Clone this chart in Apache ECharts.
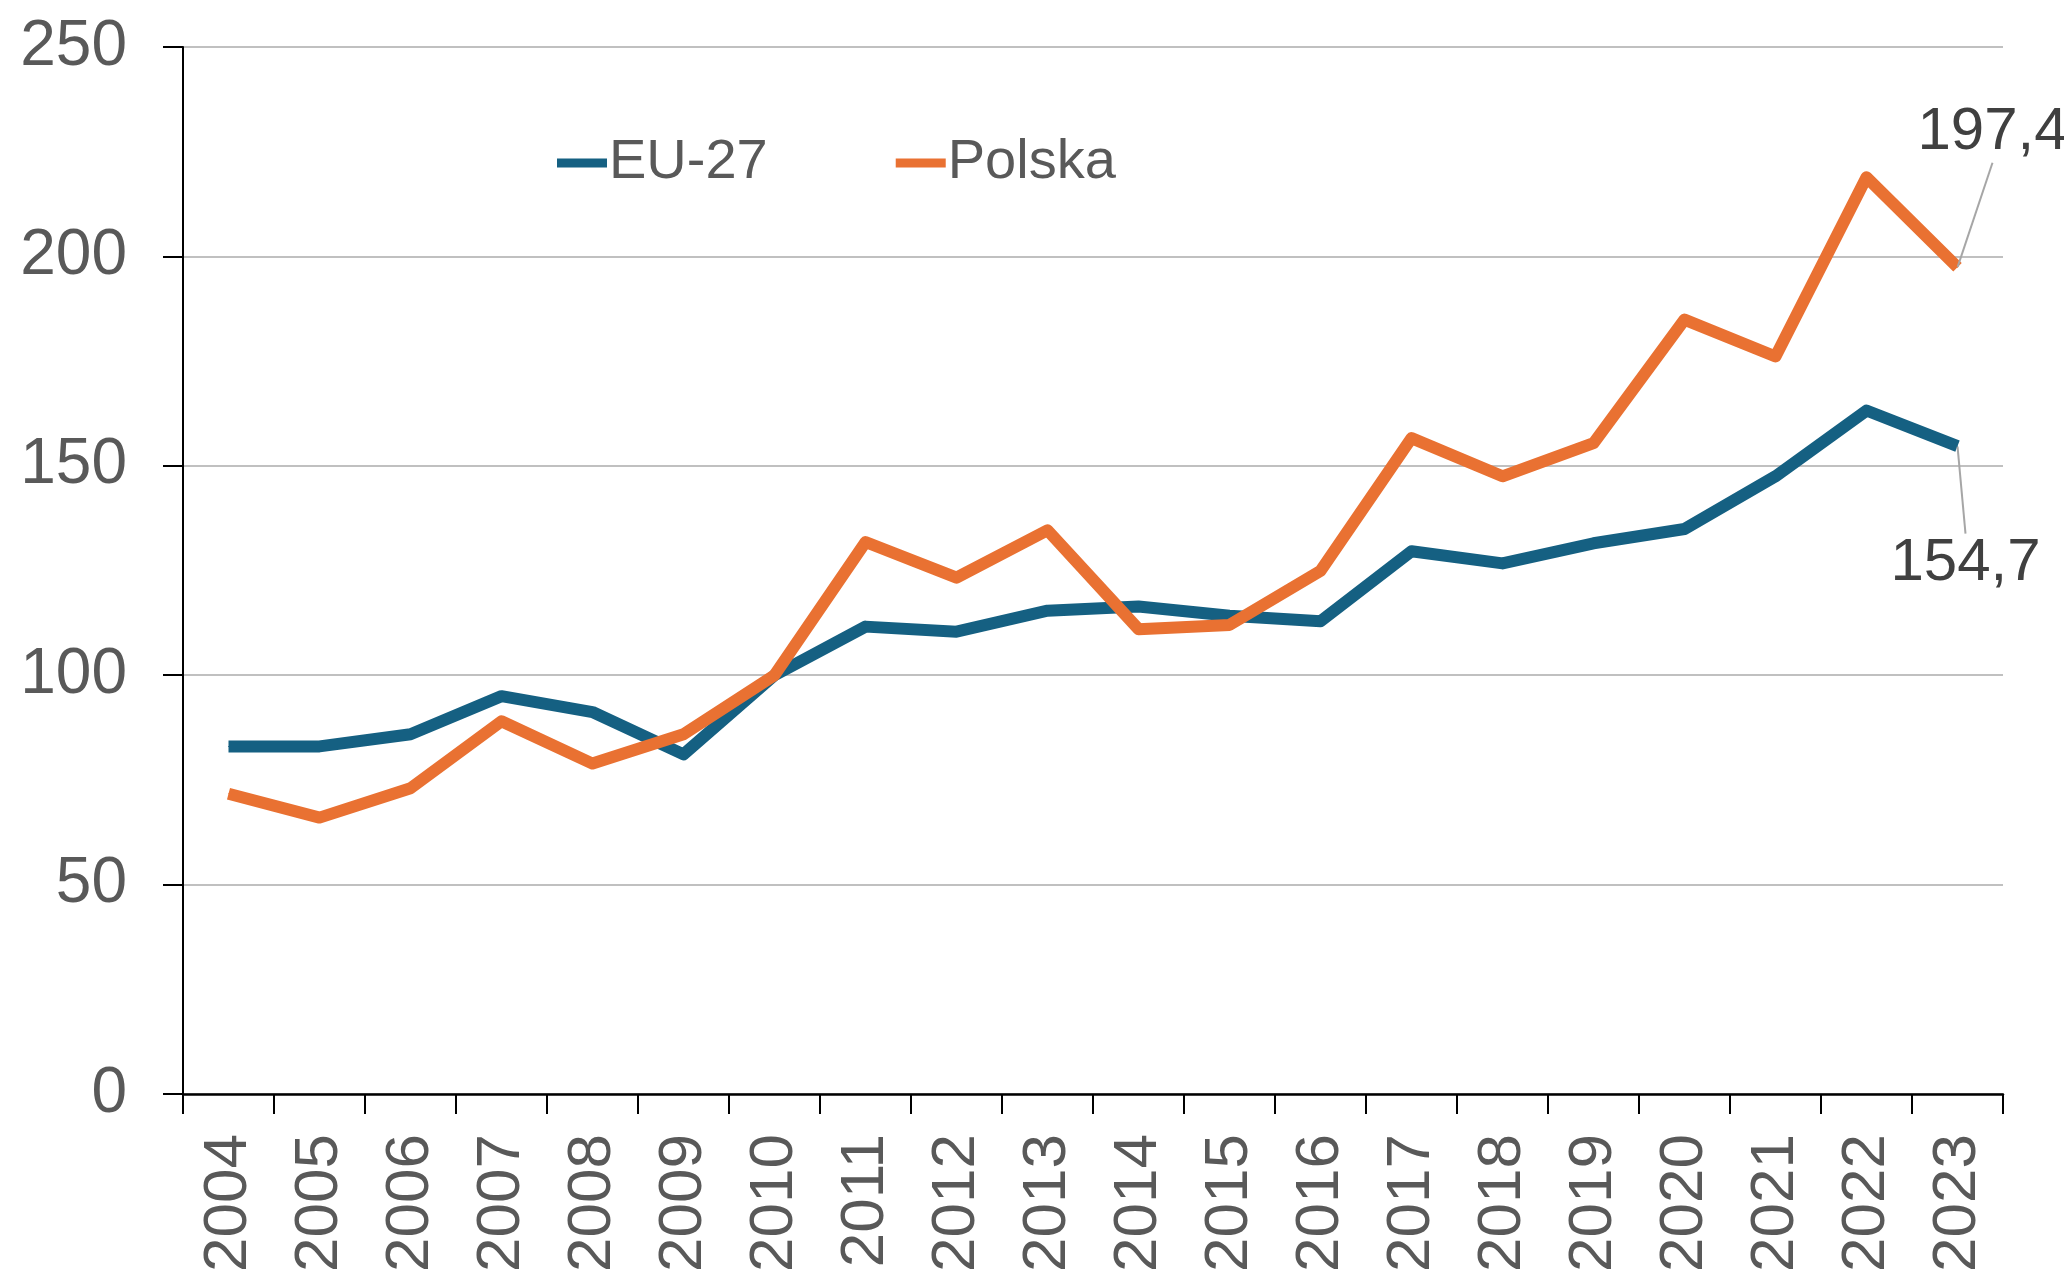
<!DOCTYPE html>
<html>
<head>
<meta charset="utf-8">
<script src="https://cdn.jsdelivr.net/npm/echarts@6/dist/echarts.min.js"></script>
<style>
html,body{margin:0;padding:0;background:#fff;}
#chart{width:2064px;height:1269px;}
</style>
</head>
<body>
<div id="chart"></div>
<script>
var years = ['2004','2005','2006','2007','2008','2009','2010','2011','2012','2013',
             '2014','2015','2016','2017','2018','2019','2020','2021','2022','2023'];
var eu27 = [83.0, 83.0, 85.9, 95.0, 91.2, 81.1, 100.0, 111.6, 110.4, 115.4,
            116.4, 114.2, 112.9, 129.6, 126.7, 131.5, 134.9, 147.5, 163.2, 154.7];
var polska = [71.7, 66.0, 73.0, 89.0, 78.9, 85.9, 100.0, 131.8, 123.3, 134.6,
              111.0, 112.0, 124.9, 156.6, 147.5, 155.4, 184.9, 176.1, 218.9, 197.4];
var yTicks = [0, 50, 100, 150, 200, 250];

var mainFont = '"Liberation Sans", Arial, sans-serif';

// ostatni punkt z etykieta
function lastLabeled(arr) {
    return arr.map(function (v, i) {
        if (i !== arr.length - 1) return v;
        return {
            value: v,
            label: {
                show: true,
                formatter: function (p) { return String(p.value).replace('.', ','); }
            }
        };
    });
}

var chart = echarts.init(document.getElementById('chart'));
var option = {
    animation: false,
    backgroundColor: '#fff',
    grid: {
        left: 183,
        right: 61,
        top: 47,
        bottom: 175,
        containLabel: false,
        outerBoundsMode: 'none'
    },
    legend: {
        left: 552,
        top: 130,
        itemWidth: 50,
        itemHeight: 9,
        itemGap: 128,
        icon: 'rect',
        textStyle: {
            fontFamily: mainFont,
            fontSize: 56,
            color: '#595959',
            padding: [0, 0, 0, -3]
        },
        data: ['EU-27', 'Polska']
    },
    xAxis: {
        type: 'category',
        data: years,
        boundaryGap: true,
        axisLine: { lineStyle: { color: '#000', width: 2.5 } },
        axisTick: { show: true, interval: 0, length: 20, lineStyle: { color: '#000', width: 2 } },
        axisLabel: {
            interval: 0,
            rotate: 90,
            margin: 40,
            fontFamily: mainFont,
            fontSize: 62,
            color: '#595959'
        }
    },
    yAxis: {
        type: 'value',
        min: 0,
        max: 250,
        interval: 50,
        axisLine: { show: true, lineStyle: { color: '#000', width: 2 } },
        axisTick: { show: true, length: 20, lineStyle: { color: '#000', width: 2 } },
        splitLine: { lineStyle: { color: '#c0c0c0', width: 2 } },
        axisLabel: {
            margin: 56,
            fontFamily: mainFont,
            fontSize: 64,
            color: '#595959',
            formatter: function (v) { return yTicks.indexOf(v) >= 0 ? String(v) : ''; }
        }
    },
    series: [{
        name: 'EU-27',
        type: 'line',
        data: lastLabeled(eu27),
        symbol: 'circle',
        symbolSize: 1,
        color: '#156082',
        lineStyle: { width: 12, color: '#156082', join: 'round' },
        label: {
            fontFamily: mainFont,
            fontSize: 60,
            color: '#404040'
        },
        labelLayout: function (p) {
            return { dx: 8, dy: 153 };
        },
        labelLine: { show: true, lineStyle: { color: '#a6a6a6', width: 2 } },
        z: 2
    }, {
        name: 'Polska',
        type: 'line',
        data: lastLabeled(polska),
        symbol: 'circle',
        symbolSize: 1,
        color: '#e97132',
        lineStyle: { width: 12, color: '#e97132', join: 'round' },
        label: {
            fontFamily: mainFont,
            fontSize: 60,
            color: '#404040'
        },
        labelLayout: function (p) {
            return { dx: 35, dy: -99 };
        },
        labelLine: { show: true, lineStyle: { color: '#a6a6a6', width: 2 } },
        z: 3
    }]
};
chart.setOption(option);
</script>
</body>
</html>
